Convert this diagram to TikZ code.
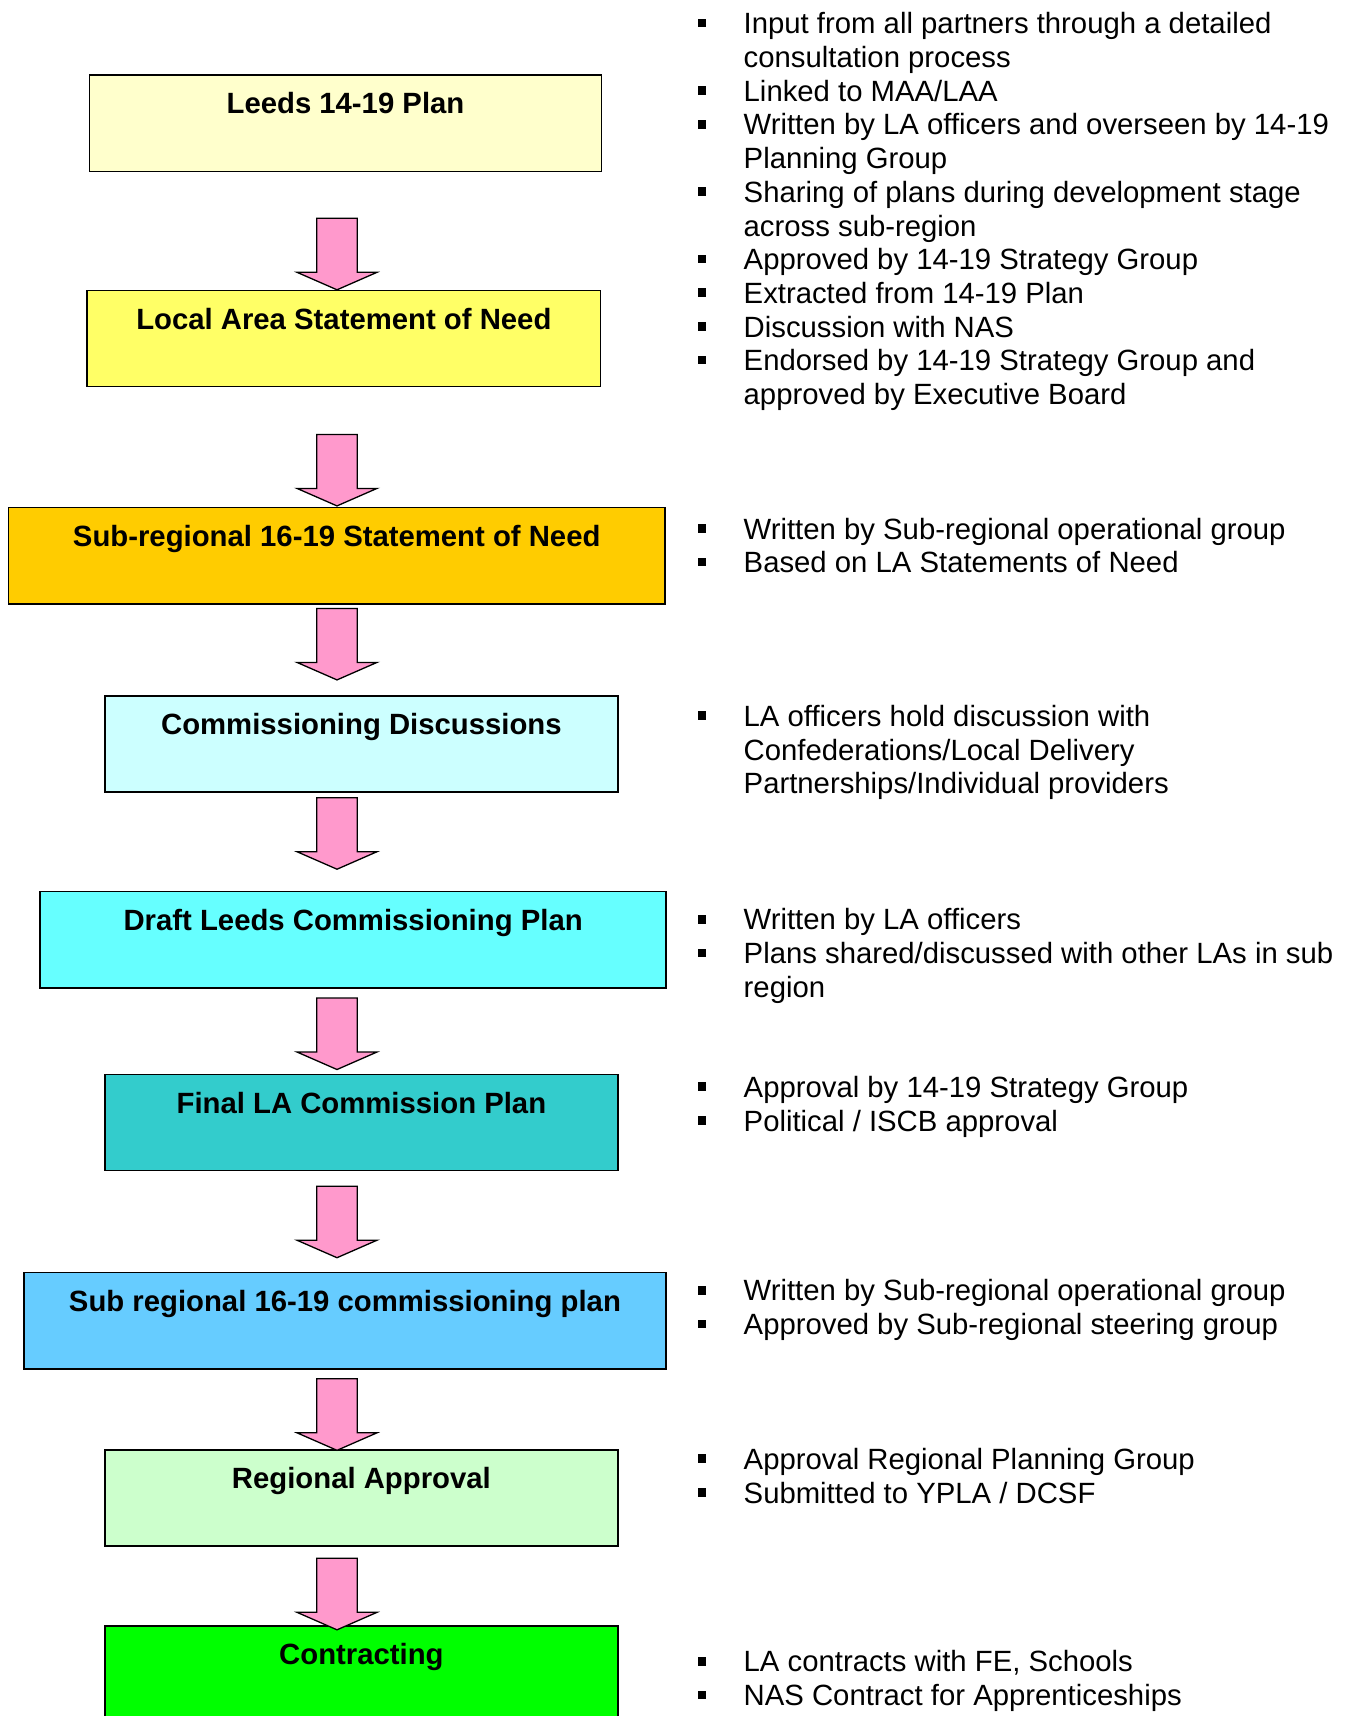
\documentclass[tikz,border=0pt]{standalone}
\usepackage{fontspec}
\setmainfont{Liberation Sans}
\definecolor{cA}{HTML}{FFFFCC}
\definecolor{cB}{HTML}{FFFF66}
\definecolor{cC}{HTML}{FFCC00}
\definecolor{cD}{HTML}{CCFFFF}
\definecolor{cE}{HTML}{66FFFF}
\definecolor{cF}{HTML}{33CCCC}
\definecolor{cG}{HTML}{66CCFF}
\definecolor{cH}{HTML}{CCFFCC}
\definecolor{cI}{HTML}{00FF00}
\definecolor{pinkarrow}{HTML}{FF99CC}
\tikzset{
  stagebox/.style={draw=black, line width=1.6pt, rectangle, inner sep=0pt, minimum height=96.3pt, anchor=north west},
  ttl/.style={font=\fontsize{29.3}{33.7}\selectfont\bfseries, inner sep=0pt, anchor=base},
  btext/.style={font=\fontsize{29.3}{33.7}\selectfont, inner sep=0pt, anchor=north west, align=left},
  blockarrow/.style={draw=black, line width=1.3pt, fill=pinkarrow, line join=miter},
}
\newcommand\stage[6]{%
  \node[stagebox, fill=#5, minimum width=#4pt] (#1) at (#2,#3) {};
  \node[ttl] (#1t) at ([yshift=-39.5pt]#1.north) {#6};}
\newcommand\bitem[3]{%
  \node[btext] (#1) at (743.5,#2-23.4) {\rule{0pt}{23.4pt}#3};
  \fill[black] (697.5,#2-14.8) rectangle (706.1,#2-6.2);}
\newcommand\barrow[2]{%
  \coordinate (#1) at (337,#2);
  \draw[blockarrow] (#1) ++(-20.25,0) -- ++(40.5,0) -- ++(0,54) -- ++(19.75,0)
     -- ++(-40,17.5) -- ++(-40,-17.5) -- ++(19.75,0) -- cycle;}
\begin{document}
\begin{tikzpicture}[x=1pt,y=-1pt]
\useasboundingbox[fill=white] (0,0) rectangle (1346,1716);
% stages
\stage{b1}{88.6}{74.4}{512.2}{cA}{Leeds 14-19 Plan}
\stage{b2}{86.4}{289.5}{513.3}{cB}{Local Area Statement of Need}
\stage{b3}{7.7}{506.7}{656.5}{cC}{Sub-regional 16-19 Statement of Need}
\stage{b4}{104}{694.9}{513.2}{cD}{Commissioning Discussions}
\stage{b5}{39.4}{890.8}{625.9}{cE}{Draft Leeds Commissioning Plan}
\stage{b6}{104}{1073.5}{513.2}{cF}{Final LA Commission Plan}
\stage{b7}{23}{1271.6}{642.3}{cG}{Sub regional 16-19 commissioning plan}
\stage{b8}{104}{1449}{513.2}{cH}{Regional Approval}
\node[stagebox, fill=cI, minimum width=513.2pt, minimum height=130pt] (b9) at (104,1625.3) {};
\node[ttl] (b9t) at ([yshift=-39.5pt]b9.north) {Contracting};
% arrows
\barrow{a1}{218.3}
\barrow{a2}{434.4}
\barrow{a3}{608.4}
\barrow{a4}{797.7}
\barrow{a5}{998}
\barrow{a6}{1186.2}
\barrow{a7}{1378.8}
\barrow{a8}{1558.3}
% bullets group 1
\bitem{g1a}{33.6}{Input from all partners through a detailed\\consultation process}
\bitem{g1b}{101.0}{Linked to MAA/LAA}
\bitem{g1c}{134.7}{Written by LA officers and overseen by 14-19\\Planning Group}
\bitem{g1d}{202.1}{Sharing of plans during development stage\\across sub-region}
\bitem{g1e}{269.5}{Approved by 14-19 Strategy Group}
\bitem{g1f}{303.2}{Extracted from 14-19 Plan}
\bitem{g1g}{336.9}{Discussion with NAS}
\bitem{g1h}{370.6}{Endorsed by 14-19 Strategy Group and\\approved by Executive Board}
% group 2
\bitem{g2a}{538.8}{Written by Sub-regional operational group}
\bitem{g2b}{572.5}{Based on LA Statements of Need}
% group 3
\bitem{g3a}{726.2}{LA officers hold discussion with\\Confederations/Local Delivery\\Partnerships/Individual providers}
% group 4
\bitem{g4a}{929.7}{Written by LA officers}
\bitem{g4b}{963.4}{Plans shared/discussed with other LAs in sub\\region}
% group 5
\bitem{g5a}{1097.1}{Approval by 14-19 Strategy Group}
\bitem{g5b}{1130.8}{Political / ISCB approval}
% group 6
\bitem{g6a}{1300.7}{Written by Sub-regional operational group}
\bitem{g6b}{1334.4}{Approved by Sub-regional steering group}
% group 7
\bitem{g7a}{1469.2}{Approval Regional Planning Group}
\bitem{g7b}{1502.9}{Submitted to YPLA / DCSF}
% group 8
\bitem{g8a}{1671.7}{LA contracts with FE, Schools}
\bitem{g8b}{1705.4}{NAS Contract for Apprenticeships}
\end{tikzpicture}
\end{document}
